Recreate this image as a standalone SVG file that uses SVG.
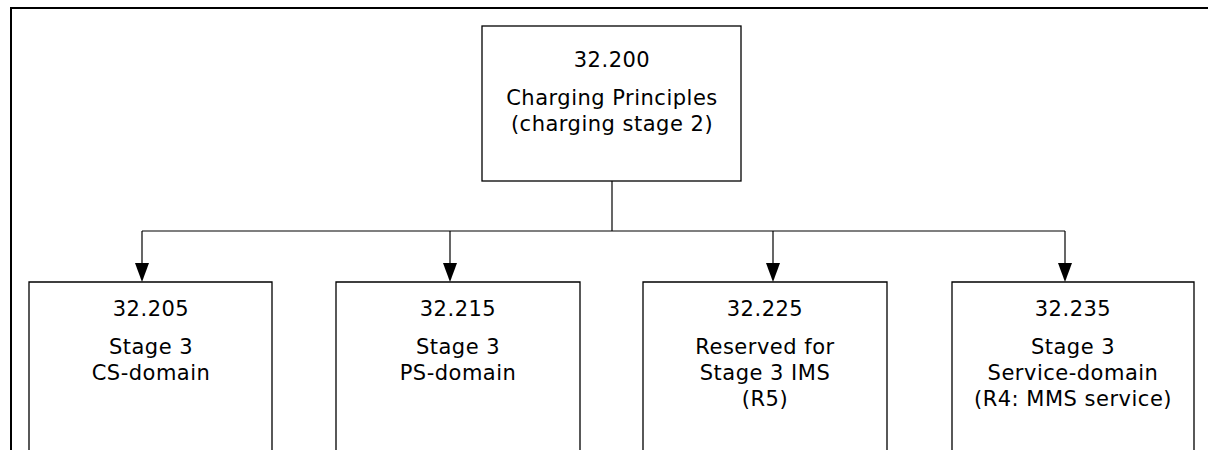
<svg xmlns="http://www.w3.org/2000/svg" width="1208" height="450" viewBox="0 0 1208 450">
<defs>
<style>
.box{fill:#fff;stroke:#000;stroke-width:1.3}
.t{font-family:"DejaVu Sans",Verdana,sans-serif;font-size:21px;letter-spacing:0.5px;text-anchor:middle;fill:#000}
.c{fill:none;stroke:#000;stroke-width:1.2}
</style>
</defs>
<rect width="1208" height="450" fill="#fff"/>
<path d="M11,450 V8 H1208" fill="none" stroke="#000" stroke-width="2"/>
<g id="connectors">
<path class="c" d="M612,181 V231"/>
<path class="c" d="M142,231 H1065"/>
<path d="M142,231 V263" class="c"/>
<path d="M450,231 V263" class="c"/>
<path d="M773,231 V263" class="c"/>
<path d="M1065,231 V263" class="c"/>
<path d="M135,263 H149 L142,282 Z"/>
<path d="M443,263 H457 L450,282 Z"/>
<path d="M766,263 H780 L773,282 Z"/>
<path d="M1058,263 H1072 L1065,282 Z"/>
</g>
<g id="n32200">
<rect class="box" x="482" y="26" width="259" height="155"/>
<text class="t" x="612" y="67">32.200</text>
<text class="t" x="612" y="105">Charging Principles</text>
<text class="t" x="612" y="131">(charging stage 2)</text>
</g>
<g id="n32205">
<path class="box" d="M29,451 V282 H272 V451"/>
<text class="t" x="151" y="316">32.205</text>
<text class="t" x="151" y="354">Stage 3</text>
<text class="t" x="151" y="380">CS-domain</text>
</g>
<g id="n32215">
<path class="box" d="M336,451 V282 H580 V451"/>
<text class="t" x="458" y="316">32.215</text>
<text class="t" x="458" y="354">Stage 3</text>
<text class="t" x="458" y="380">PS-domain</text>
</g>
<g id="n32225">
<path class="box" d="M643,451 V282 H887 V451"/>
<text class="t" x="765" y="316">32.225</text>
<text class="t" x="765" y="354">Reserved for</text>
<text class="t" x="765" y="380">Stage 3 IMS</text>
<text class="t" x="765" y="406">(R5)</text>
</g>
<g id="n32235">
<path class="box" d="M952,451 V282 H1194 V451"/>
<text class="t" x="1073" y="316">32.235</text>
<text class="t" x="1073" y="354">Stage 3</text>
<text class="t" x="1073" y="380">Service-domain</text>
<text class="t" x="1073" y="406">(R4: MMS service)</text>
</g>
</svg>
